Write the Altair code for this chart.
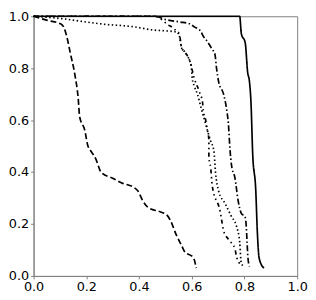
import altair as alt
import pandas as pd

series_names = ["solid", "dashed", "dashdot", "dotted", "dashdotdot"]

solid_x = [0, 0.782, 0.788, 0.803, 0.812, 0.819, 0.825, 0.831, 0.843, 0.849, 0.856, 0.874]
solid_y = [1, 1.0, 0.934, 0.897, 0.785, 0.748, 0.662, 0.476, 0.327, 0.166, 0.067, 0.03]

dashed_x = [0, 0.053, 0.102, 0.114, 0.126, 0.139, 0.157, 0.169, 0.175, 0.194, 0.206, 0.218,
            0.236, 0.255, 0.261, 0.298, 0.335, 0.383, 0.396, 0.414, 0.433, 0.482, 0.506,
            0.518, 0.543, 0.562, 0.574, 0.604, 0.610, 0.617]
dashed_y = [1, 0.984, 0.971, 0.959, 0.922, 0.860, 0.773, 0.687, 0.612, 0.562, 0.501, 0.480,
            0.451, 0.401, 0.395, 0.377, 0.358, 0.339, 0.327, 0.290, 0.265, 0.246, 0.234,
            0.216, 0.154, 0.116, 0.092, 0.073, 0.061, 0.030]

dashdot_x = [0, 0.457, 0.506, 0.555, 0.592, 0.610, 0.635, 0.641, 0.659, 0.678, 0.688, 0.694,
             0.702, 0.721, 0.733, 0.739, 0.745, 0.751, 0.764, 0.776, 0.788, 0.802, 0.806,
             0.810, 0.813, 0.819]
dashdot_y = [1, 1.0, 0.986, 0.978, 0.971, 0.959, 0.941, 0.928, 0.903, 0.872, 0.854, 0.80,
             0.748, 0.699, 0.637, 0.587, 0.488, 0.426, 0.377, 0.290, 0.241, 0.228, 0.203,
             0.129, 0.073, 0.036]

dotted_x = [0, 0.114, 0.199, 0.261, 0.383, 0.445, 0.531, 0.549, 0.555, 0.561, 0.574, 0.592,
            0.598, 0.602, 0.610, 0.622, 0.635, 0.647, 0.659, 0.672, 0.684, 0.690, 0.702,
            0.727, 0.751, 0.770, 0.782, 0.788, 0.800]
dotted_y = [1, 0.990, 0.978, 0.970, 0.959, 0.948, 0.941, 0.938, 0.916, 0.879, 0.862, 0.829,
            0.810, 0.761, 0.730, 0.699, 0.649, 0.606, 0.562, 0.519, 0.482, 0.401, 0.327,
            0.278, 0.228, 0.191, 0.129, 0.048, 0.036]

dashdotdot_x = [0, 0.46, 0.512, 0.531, 0.555, 0.561, 0.574, 0.592, 0.610, 0.629, 0.641, 0.644,
                0.653, 0.659, 0.665, 0.665, 0.665, 0.672, 0.678, 0.708, 0.721, 0.739, 0.764,
                0.770, 0.788]
dashdotdot_y = [1, 1.0, 0.966, 0.953, 0.92, 0.88, 0.862, 0.83, 0.76, 0.709, 0.668, 0.637,
                0.600, 0.563, 0.525, 0.488, 0.457, 0.415, 0.346, 0.248, 0.174, 0.141, 0.104,
                0.073, 0.042]

tick_values = [0.0, 0.2, 0.4, 0.6, 0.8, 1.0]

rows = []
for name, xs, ys in [
    ("solid", solid_x, solid_y),
    ("dashed", dashed_x, dashed_y),
    ("dashdot", dashdot_x, dashdot_y),
    ("dotted", dotted_x, dotted_y),
    ("dashdotdot", dashdotdot_x, dashdotdot_y),
]:
    for i, (x, y) in enumerate(zip(xs, ys)):
        rows.append({"series": name, "i": i, "x": x, "y": y})
df = pd.DataFrame(rows)

dash_range = [[1, 0], [6, 3], [6, 2.5, 1.5, 2.5], [1.5, 2.5], [4, 3.5, 1.5, 3.5, 1.5, 3.5]]

axis_common = dict(
    values=tick_values,
    format=".1f",
    grid=False,
    domainColor="#808080",
    tickColor="#808080",
    tickSize=3,
    labelPadding=2,
    labelFont="DejaVu Sans",
    labelFontSize=13,
    labelColor="#000000",
    labelFlush=False,
    labelOverlap=False,
    title=None,
)

chart = (
    alt.Chart(df)
    .mark_line(color="black", strokeWidth=1.7, interpolate="monotone")
    .encode(
        x=alt.X("x:Q", scale=alt.Scale(domain=[0, 1], nice=False), axis=alt.Axis(**axis_common)),
        y=alt.Y("y:Q", scale=alt.Scale(domain=[0, 1], nice=False), axis=alt.Axis(**axis_common)),
        strokeDash=alt.StrokeDash("series:N", scale=alt.Scale(domain=series_names, range=dash_range), legend=None),
        detail="series:N",
        order="i:Q",
    )
    .properties(width=268, height=264, padding={"left": 0, "top": 0, "right": 0, "bottom": 0})
    .configure_view(stroke="#808080", strokeWidth=1)
)

chart.save("out.html", embed_options={"renderer": "svg", "actions": False})
